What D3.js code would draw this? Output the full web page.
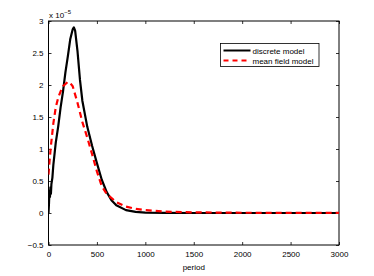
<!DOCTYPE html>
<html>
<head>
<meta charset="utf-8">
<script src="https://cdn.jsdelivr.net/npm/d3@7"></script>
<style>
  body { margin: 0; background: #fff; }
  svg { font-family: "Liberation Sans", Arial, sans-serif; }
</style>
</head>
<body>
<div class="canvas"></div>
<script>
// data (values x 10^-5)
const discretePeriod = [0, 5, 10, 15, 20, 25, 30, 40, 50, 75, 100, 125, 150, 175, 200, 225, 250, 262, 275, 300, 325, 350, 400, 450, 500, 550, 600, 650, 700, 800, 900, 1000, 1200, 1500, 2000, 2500, 3000];
const discreteValues = [0, 0.15, 0.35, 0.25, 0.4, 0.3, 0.45, 0.55, 0.75, 1.1, 1.35, 1.65, 1.9, 2.2, 2.45, 2.72, 2.87, 2.9, 2.85, 2.52, 2.08, 1.75, 1.35, 1.05, 0.78, 0.52, 0.33, 0.2, 0.12, 0.045, 0.018, 0.006, 0.001, 0, 0, 0, 0];
const meanPeriod = [0, 10, 25, 50, 75, 100, 125, 150, 200, 225, 250, 300, 350, 400, 450, 500, 550, 600, 700, 800, 900, 1000, 1200, 1500, 2000, 2500, 3000];
const meanValues = [0.6, 0.8, 1.05, 1.4, 1.65, 1.8, 1.9, 1.98, 2.05, 2.03, 1.98, 1.72, 1.42, 1.18, 0.92, 0.65, 0.42, 0.3, 0.17, 0.1, 0.065, 0.045, 0.022, 0.01, 0.004, 0.002, 0.001];
const xTicks = [0, 500, 1000, 1500, 2000, 2500, 3000];
const yTicks = [-0.5, 0, 0.5, 1, 1.5, 2, 2.5, 3];
const seriesNames = ['discrete model', 'mean field model'];

const dims = { width: 374, height: 276 };
const box = { left: 48.5, right: 339, top: 21, bottom: 245 };

const svg = d3.select('.canvas')
  .append('svg')
  .attr('width', dims.width)
  .attr('height', dims.height);

const x = d3.scaleLinear().domain([0, 3000]).range([box.left, box.right]);
const y = d3.scaleLinear().domain([-0.5, 3]).range([box.bottom, box.top]);

// frame
svg.append('rect')
  .attr('x', box.left).attr('y', box.top)
  .attr('width', box.right - box.left).attr('height', box.bottom - box.top)
  .attr('fill', 'none').attr('stroke', '#000').attr('stroke-width', 1);

// axes with inward ticks
const tickLen = 3;
const styleAxis = g => {
  g.select('.domain').remove();
  g.selectAll('.tick line').attr('stroke', '#000').attr('stroke-width', 0.8);
  g.selectAll('.tick text').attr('font-size', 8).attr('fill', '#000')
    .attr('font-family', '"Liberation Sans", Arial, sans-serif');
};
const fmt = d => d < 0 ? '\u22120.5' : String(d);

svg.append('g')
  .attr('transform', `translate(0,${box.bottom})`)
  .call(d3.axisBottom(x).tickValues(xTicks).tickSize(-tickLen).tickPadding(6).tickFormat(d3.format('d')))
  .call(styleAxis);
svg.append('g')
  .attr('transform', `translate(0,${box.top})`)
  .call(d3.axisTop(x).tickValues(xTicks).tickSize(-tickLen).tickFormat(''))
  .call(styleAxis);
svg.append('g')
  .attr('transform', `translate(${box.left},0)`)
  .call(d3.axisLeft(y).tickValues(yTicks).tickSize(-tickLen).tickPadding(5).tickFormat(fmt))
  .call(styleAxis);
svg.append('g')
  .attr('transform', `translate(${box.right},0)`)
  .call(d3.axisRight(y).tickValues(yTicks).tickSize(-tickLen).tickFormat(''))
  .call(styleAxis);

// exponent label
const expo = svg.append('text').attr('x', 49).attr('y', 18)
  .attr('font-size', 8).attr('fill', '#000');
expo.append('tspan').text('x 10');
expo.append('tspan').attr('dy', -4).attr('font-size', 6).text('\u22125');

// x label
svg.append('text').attr('x', (box.left + box.right) / 2).attr('y', 270)
  .attr('text-anchor', 'middle').attr('font-size', 8).text('period');

// lines
const line = d3.line().x(d => x(d[0])).y(d => y(d[1]));
svg.append('clipPath').attr('id', 'clip')
  .append('rect').attr('x', box.left).attr('y', box.top)
  .attr('width', box.right - box.left).attr('height', box.bottom - box.top);

svg.append('path')
  .datum(discretePeriod.map((p, i) => [p, discreteValues[i]]))
  .attr('clip-path', 'url(#clip)')
  .attr('fill', 'none').attr('stroke', '#000').attr('stroke-width', 2.2)
  .attr('stroke-linejoin', 'round')
  .attr('d', line);

svg.append('path')
  .datum(meanPeriod.map((p, i) => [p, meanValues[i]]))
  .attr('clip-path', 'url(#clip)')
  .attr('fill', 'none').attr('stroke', '#ff0000').attr('stroke-width', 2.2)
  .attr('stroke-dasharray', '6,4')
  .attr('d', line);

// legend
const lg = svg.append('g').attr('transform', 'translate(220.5,43.5)');
lg.append('rect').attr('width', 98.5).attr('height', 23)
  .attr('fill', '#fff').attr('stroke', '#000').attr('stroke-width', 0.8);
seriesNames.forEach((name, i) => {
  const yy = 7 + i * 10;
  lg.append('line').attr('x1', 3).attr('x2', 30).attr('y1', yy).attr('y2', yy)
    .attr('stroke', i ? '#ff0000' : '#000').attr('stroke-width', 2)
    .attr('stroke-dasharray', i ? '5,4' : null);
  lg.append('text').attr('x', 32).attr('y', yy + 3)
    .attr('font-size', 8).text(name);
});
</script>
</body>
</html>
